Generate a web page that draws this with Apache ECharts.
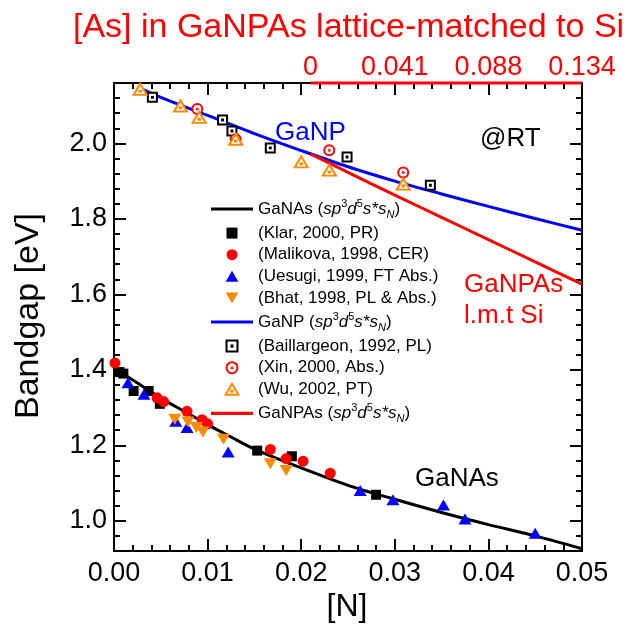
<!DOCTYPE html>
<html><head><meta charset="utf-8">
<script src="https://cdn.jsdelivr.net/npm/echarts@6/dist/echarts.min.js"></script>
<style>html,body{margin:0;padding:0;background:#fff}#c{width:629px;height:632px}</style>
</head><body><div id="c"></div>
<script>
// ---- data ----
const ganasCurve = [[0,1.405],[0.0025,1.365],[0.005,1.325],[0.0075,1.29],[0.01,1.255],[0.0125,1.222],[0.015,1.19],[0.02,1.14],[0.025,1.094],[0.03,1.057],[0.035,1.022],[0.04,0.99],[0.045,0.96],[0.05,0.926]];
const ganpCurve = [[0.0025,2.150],[0.005,2.122],[0.01,2.074],[0.015,2.026],[0.02,1.981],[0.025,1.938],[0.03,1.900],[0.035,1.866],[0.04,1.833],[0.045,1.801],[0.05,1.770]];
const ganpasCurve = [[0.021,1.972],[0.025,1.923],[0.03,1.863],[0.035,1.804],[0.04,1.745],[0.045,1.686],[0.05,1.627]];
const klar = [[0.0006,1.394],[0.001,1.390],[0.0021,1.344],[0.0037,1.344],[0.0049,1.310],[0.0153,1.186],[0.019,1.171],[0.028,1.069]];
const malikova = [[0.0001,1.418],[0.0046,1.326],[0.0053,1.316],[0.0078,1.290],[0.0094,1.268],[0.0100,1.257],[0.0167,1.189],[0.0184,1.165],[0.0202,1.158],[0.0231,1.126]];
const uesugi = [[0.0015,1.366],[0.0032,1.335],[0.0066,1.264],[0.0078,1.247],[0.0122,1.182],[0.0263,1.080],[0.0298,1.056],[0.0352,1.042],[0.0375,1.005],[0.0450,0.967]];
const bhat = [[0.0065,1.269],[0.0079,1.262],[0.0088,1.247],[0.0095,1.235],[0.0117,1.216],[0.0167,1.151],[0.0184,1.133]];
const baillargeon = [[0.0041,2.122],[0.0116,2.062],[0.0126,2.033],[0.0167,1.988],[0.0249,1.964],[0.0338,1.889]];
const xin = [[0.0089,2.091],[0.0130,2.011],[0.0230,1.982],[0.0309,1.923]];
const wu = [[0.0028,2.143],[0.0071,2.099],[0.0091,2.069],[0.0130,2.011],[0.0200,1.951],[0.0230,1.929],[0.0309,1.892]];
const topAxisPos = [0.021, 0.03, 0.04, 0.05];
const topAxisLabels = ['0', '0.041', '0.088', '0.134'];
const topAxisLine = [[0.021, 2.16], [0.05, 2.16]];
const yLabelVals = [1.0, 1.2, 1.4, 1.6, 1.8, 2.0];
const seriesNames = ['GaNAs', '(Klar, 2000, PR)', '(Malikova, 1998, CER)', '(Uesugi, 1999, FT Abs.)', '(Bhat, 1998, PL & Abs.)', 'GaNP', '(Baillargeon, 1992, PL)', '(Xin, 2000, Abs.)', '(Wu, 2002, PT)', 'GaNPAs'];

// ---- styles ----
const FONT = "'Liberation Sans', Arial, sans-serif";
const RED = '#ff0000', BLUE = '#0000ff', ORANGE = '#ff8a00', BLACK = '#000000';
const SQ = 'path://M0,0 L10,0 L10,10 L0,10 Z';
const TR_UP = 'path://M5,0 L10,8.66 L0,8.66 Z';
const TR_DOWN = 'path://M0,0 L10,0 L5,8.66 Z';
const SQ_DOT = 'path://M0,0 L10,0 L10,10 L0,10 Z M4.5,4.5 L5.5,4.5 L5.5,5.5 L4.5,5.5 Z';
const CI_DOT = 'path://M5,0 A5,5 0 1 1 5,10 A5,5 0 1 1 5,0 Z M5,4.5 A0.5,0.5 0 1 1 5,5.5 A0.5,0.5 0 1 1 5,4.5 Z';
const TR_DOT = 'path://M5,0 L10,8.66 L0,8.66 Z M4.5,5.3 L5.5,5.3 L5.5,6.2 L4.5,6.2 Z';
const LINE_ICON = 'path://M0,0 L40,0 L40,3 L0,3 Z';

const chart = echarts.init(document.getElementById('c'));
const grid = {left: 114, right: 47, top: 83, bottom: 81};
const axLine = {show: true, lineStyle: {color: BLACK, width: 2}};
const minorTickStyle = {show: true, splitNumber: 5, length: 6, lineStyle: {color: BLACK, width: 2}};

function lineSeries(name, data, color) {
  return {name, type: 'line', data, symbol: 'none', smooth: 0.3, lineStyle: {color, width: 3}, itemStyle: {color}, z: 3};
}
function scatterSeries(name, data, symbol, size, color, open) {
  return {name, type: 'scatter', data, symbol, symbolSize: size,
    itemStyle: open ? {color: '#ffffff', borderColor: color, borderWidth: 2, opacity: 1} : {color, opacity: 1}, z: 4};
}
const richLabel = (pre) => '{n|' + pre + ' (}{i|sp}{sup|3}{i|d}{sup|5}{i|s*s}{sub|N}{n|)}';
const lineNames = ['GaNAs', 'GaNP', 'GaNPAs'];

const option = {
  animation: false,
  backgroundColor: '#ffffff',
  title: {text: '[As] in GaNPAs lattice-matched to Si', left: 68, top: 6,
    textStyle: {color: RED, fontSize: 34, fontWeight: 'normal', fontFamily: FONT}},
  grid,
  xAxis: [
    {type: 'value', min: 0, max: 0.05, interval: 0.01, position: 'bottom',
      axisLine: axLine, axisTick: {inside: true, length: 12, lineStyle: {color: BLACK, width: 2}},
      minorTick: minorTickStyle, splitLine: {show: false},
      axisLabel: {fontSize: 27, color: BLACK, fontFamily: FONT, margin: 9, formatter: v => v.toFixed(2)}},
    {type: 'value', min: 0, max: 0.05, interval: 0.01, position: 'top',
      axisLine: axLine, axisTick: {inside: true, length: 12, lineStyle: {color: BLACK, width: 2}},
      minorTick: minorTickStyle, splitLine: {show: false},
      axisLabel: {fontSize: 27, color: RED, fontFamily: FONT, margin: 2, customValues: topAxisPos,
        showMinLabel: true, showMaxLabel: true,
        formatter: v => { const i = topAxisPos.findIndex(p => Math.abs(p - v) < 1e-6); return i >= 0 ? topAxisLabels[i] : ''; }}}
  ],
  yAxis: [
    {type: 'value', min: 0.92, max: 2.16, interval: 0.04, position: 'left',
      axisLine: axLine, axisTick: {inside: true, length: 6, lineStyle: {color: BLACK, width: 2}},
      splitLine: {show: false},
      axisLabel: {fontSize: 27, color: BLACK, fontFamily: FONT, margin: 7, customValues: yLabelVals, formatter: v => v.toFixed(1)}},
    {type: 'value', min: 0.92, max: 2.16, position: 'left',
      axisLine: {show: false}, axisTick: {show: true, inside: true, length: 12, customValues: yLabelVals, lineStyle: {color: BLACK, width: 2}},
      splitLine: {show: false}, axisLabel: {show: false}},
    {type: 'value', min: 0.92, max: 2.16, interval: 0.04, position: 'right',
      axisLine: axLine, axisTick: {inside: true, length: 6, lineStyle: {color: BLACK, width: 2}},
      splitLine: {show: false}, axisLabel: {show: false}},
    {type: 'value', min: 0.92, max: 2.16, position: 'right',
      axisLine: {show: false}, axisTick: {show: true, inside: true, length: 12, customValues: yLabelVals, lineStyle: {color: BLACK, width: 2}},
      splitLine: {show: false}, axisLabel: {show: false}}
  ],
  legend: {
    orient: 'vertical', left: 211, top: 198, padding: 0, itemWidth: 42, itemHeight: 11, itemGap: 4.6,
    selectedMode: false,
    data: seriesNames.map(n => lineNames.includes(n) ? {name: n, icon: LINE_ICON} : {name: n}),
    formatter: name => lineNames.includes(name) ? richLabel(name) : '{n|' + name + '}',
    textStyle: {fontSize: 17, color: BLACK, fontFamily: FONT,
      rich: {
        n: {fontSize: 17, fontFamily: FONT, color: BLACK, lineHeight: 22},
        i: {fontSize: 17, fontFamily: FONT, color: BLACK, fontStyle: 'italic', lineHeight: 22},
        sup: {fontSize: 11, fontFamily: FONT, color: BLACK, lineHeight: 11, verticalAlign: 'top'},
        sub: {fontSize: 11, fontFamily: FONT, color: BLACK, fontStyle: 'italic', lineHeight: 11, verticalAlign: 'bottom'}
      }}
  },
  series: [
    lineSeries(seriesNames[0], ganasCurve, BLACK),
    scatterSeries(seriesNames[1], klar, SQ, 10, BLACK, false),
    scatterSeries(seriesNames[2], malikova, 'circle', 11, RED, false),
    scatterSeries(seriesNames[3], uesugi, TR_UP, [13, 11], BLUE, false),
    scatterSeries(seriesNames[4], bhat, TR_DOWN, [13, 11], ORANGE, false),
    lineSeries(seriesNames[5], ganpCurve, BLUE),
    scatterSeries(seriesNames[6], baillargeon, SQ_DOT, 9, BLACK, true),
    scatterSeries(seriesNames[7], xin, CI_DOT, 10, RED, true),
    scatterSeries(seriesNames[8], wu, TR_DOT, [13, 11], ORANGE, true),
    lineSeries(seriesNames[9], ganpasCurve, RED),
    {name: 'topAxisRed', type: 'line', data: topAxisLine, symbol: 'none', clip: false, xAxisIndex: 0,
      lineStyle: {color: RED, width: 3}, z: 10, silent: true}
  ],
  graphic: [
    {type: 'text', x: 29, y: 316, rotation: Math.PI / 2, style: {text: 'Bandgap [eV]', font: '34px ' + FONT, fill: BLACK, textAlign: 'center', textVerticalAlign: 'middle'}},
    {type: 'text', x: 347, y: 607, style: {text: '[N]', font: '32px ' + FONT, fill: BLACK, textAlign: 'center', textVerticalAlign: 'middle'}},
    {type: 'text', x: 275, y: 133, style: {text: 'GaNP', font: '26px ' + FONT, fill: BLUE, textAlign: 'left', textVerticalAlign: 'middle'}},
    {type: 'text', x: 480, y: 139, style: {text: '@RT', font: '26px ' + FONT, fill: BLACK, textAlign: 'left', textVerticalAlign: 'middle'}},
    {type: 'text', x: 415, y: 479, style: {text: 'GaNAs', font: '26px ' + FONT, fill: BLACK, textAlign: 'left', textVerticalAlign: 'middle'}},
    {type: 'text', x: 464, y: 285, style: {text: 'GaNPAs', font: '26px ' + FONT, fill: RED, textAlign: 'left', textVerticalAlign: 'middle'}},
    {type: 'text', x: 464, y: 316, style: {text: 'l.m.t Si', font: '26px ' + FONT, fill: RED, textAlign: 'left', textVerticalAlign: 'middle'}}
  ]
};
chart.setOption(option);
</script>
</body></html>
